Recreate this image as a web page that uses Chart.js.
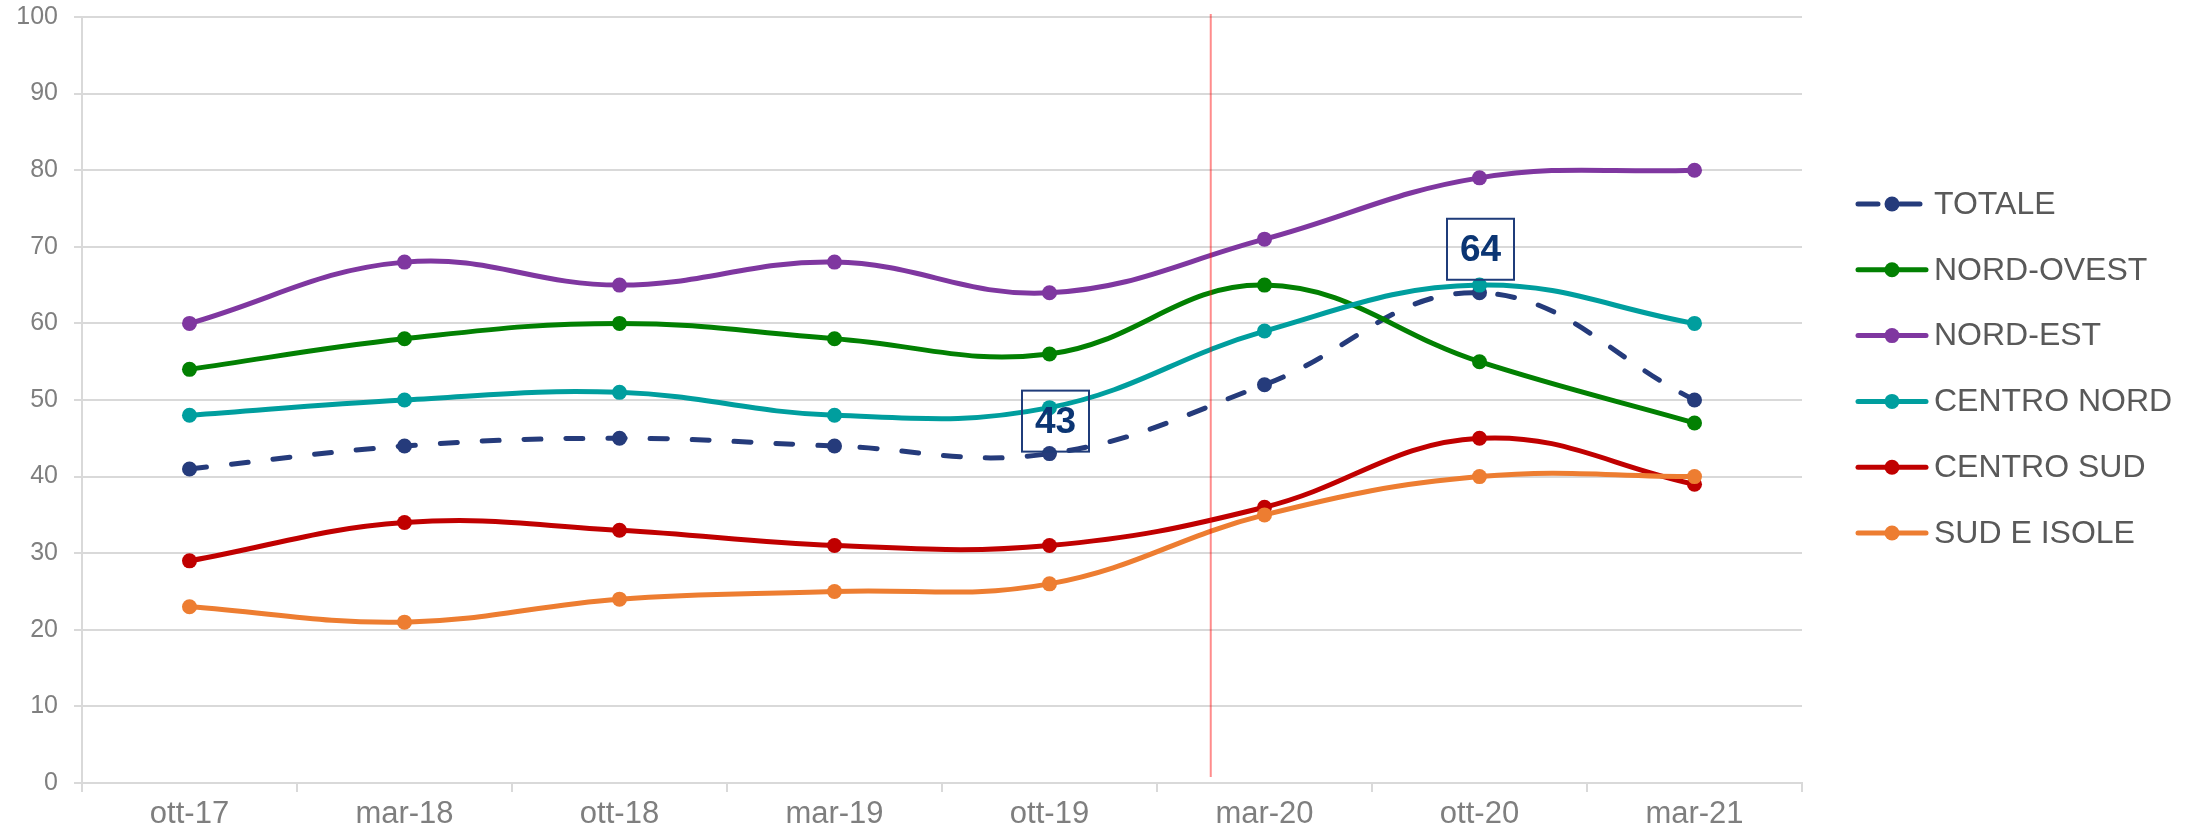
<!DOCTYPE html>
<html>
  <head>
    <title>indice per ripartizione</title>
    <style>
      body {
        margin: 0;
        background: #ffffff;
      }
    </style>
  </head>
  <body>
    <div style="width: 2187px; height: 838px">
      <canvas id="canvas" width="2187" height="838"></canvas>
    </div>

    <script src="https://cdn.jsdelivr.net/npm/chart.js@4/dist/chart.umd.min.js"></script>
    <script>
      // categories (x axis)
      const labels = ["ott-17", "mar-18", "ott-18", "mar-19", "ott-19", "mar-20", "ott-20", "mar-21"];

      // series values
      const totale = [41, 44, 45, 44, 43, 52, 64, 50];
      const nordOvest = [54, 58, 60, 58, 56, 65, 55, 47];
      const nordEst = [60, 68, 65, 68, 64, 71, 79, 80];
      const centroNord = [48, 50, 51, 48, 49, 59, 65, 60];
      const centroSud = [29, 34, 33, 31, 31, 36, 45, 39];
      const sudIsole = [23, 21, 24, 25, 26, 35, 40, 40];

      // y axis ticks
      const yMin = 0;
      const yMax = 100;
      const yStep = 10;

      // red marker, in category units (between ott-19 and mar-20)
      const markerAt = 4.75;
      // TOTALE points that carry a boxed value label
      const boxedPoints = [4, 6];

      Chart.defaults.font.family = "'Liberation Sans', Arial, sans-serif";

      function series(label, data, color, dashed) {
        return {
          label: label,
          data: data,
          borderColor: color,
          backgroundColor: color,
          pointBackgroundColor: color,
          pointBorderColor: color,
          borderWidth: 5,
          pointRadius: 7.5,
          pointBorderWidth: 0,
          tension: 0.4,
          borderCapStyle: "round",
          borderDash: dashed ? [17, 25] : [],
          fill: false,
        };
      }

      const datasets = [
        series("TOTALE", totale, "#253b7b", true),
        series("NORD-OVEST", nordOvest, "#028002", false),
        series("NORD-EST", nordEst, "#7f37a0", false),
        series("CENTRO NORD", centroNord, "#009e9e", false),
        series("CENTRO SUD", centroSud, "#c00000", false),
        series("SUD E ISOLE", sudIsole, "#ed7d31", false),
      ];
      // later series on top, like the original
      datasets.forEach((ds, i) => (ds.order = datasets.length - i));

      // vertical red line
      const markerLine = {
        id: "markerLine",
        afterDatasetsDraw(chart) {
          const ctx = chart.ctx;
          const x = chart.scales.x.getPixelForValue(markerAt);
          ctx.save();
          ctx.strokeStyle = "rgba(255, 0, 0, 0.45)";
          ctx.lineWidth = 2;
          ctx.beginPath();
          ctx.moveTo(x, chart.chartArea.top - 3);
          ctx.lineTo(x, chart.chartArea.bottom - 6);
          ctx.stroke();
          ctx.restore();
        },
      };

      // boxed value labels on TOTALE
      const boxOffsets = { 4: [6, 2], 6: [1, 13] };
      const valueBoxes = {
        id: "valueBoxes",
        afterDatasetsDraw(chart) {
          const ctx = chart.ctx;
          const meta = chart.getDatasetMeta(0);
          ctx.save();
          boxedPoints.forEach((i) => {
            const pt = meta.data[i];
            const off = boxOffsets[i] || [0, 10];
            const w = 67;
            const h = 61;
            const cx = pt.x + off[0];
            const bottom = pt.y - off[1];
            ctx.strokeStyle = "#1f3c7a";
            ctx.lineWidth = 2;
            ctx.strokeRect(cx - w / 2, bottom - h, w, h);
            ctx.fillStyle = "#0b3573";
            ctx.font = "bold 37px 'Liberation Sans', Arial, sans-serif";
            ctx.textAlign = "center";
            ctx.textBaseline = "middle";
            ctx.fillText(String(chart.data.datasets[0].data[i]), cx, bottom - h / 2 + 2);
          });
          ctx.restore();
        },
      };

      // legend on the right: line + dot + name
      const sideLegend = {
        id: "sideLegend",
        afterDraw(chart) {
          const ctx = chart.ctx;
          const x0 = chart.chartArea.right + 56;
          ctx.save();
          chart.data.datasets.forEach((ds, i) => {
            const y = 204 + i * 65.8;
            ctx.strokeStyle = ds.borderColor;
            ctx.lineWidth = 5;
            ctx.lineCap = "round";
            ctx.setLineDash(ds.borderDash.length ? [20, 22] : []);
            ctx.beginPath();
            ctx.moveTo(x0, y);
            ctx.lineTo(x0 + 68, y);
            ctx.stroke();
            ctx.setLineDash([]);
            ctx.fillStyle = ds.borderColor;
            ctx.beginPath();
            ctx.arc(x0 + 34, y, 7.5, 0, Math.PI * 2);
            ctx.fill();
            ctx.fillStyle = "#595959";
            ctx.font = "32px 'Liberation Sans', Arial, sans-serif";
            ctx.textAlign = "left";
            ctx.textBaseline = "middle";
            ctx.fillText(ds.label, x0 + 76, y + 1);
          });
          ctx.restore();
        },
      };

      const config = {
        type: "line",
        data: {
          labels: labels,
          datasets: datasets,
        },
        options: {
          responsive: false,
          animation: false,
          devicePixelRatio: 1,
          layout: {
            padding: { top: 17, right: 385, bottom: 0, left: 0 },
          },
          plugins: {
            legend: { display: false },
            tooltip: { enabled: false },
          },
          scales: {
            x: {
              offset: true,
              afterFit: (scale) => {
                scale.height = 55;
              },
              grid: {
                offset: true,
                drawOnChartArea: false,
                color: "#d9d9d9",
                lineWidth: 2,
                tickLength: 9,
              },
              border: { color: "#d9d9d9", width: 2 },
              ticks: {
                color: "#7f7f7f",
                font: { size: 31 },
                padding: 4,
                maxRotation: 0,
              },
            },
            y: {
              min: yMin,
              max: yMax,
              afterFit: (scale) => {
                scale.width = 82;
                scale.paddingTop = 0;
                scale.paddingBottom = 0;
              },
              grid: {
                color: "#d9d9d9",
                lineWidth: 2,
                tickLength: 8,
              },
              border: { color: "#d9d9d9", width: 2 },
              ticks: {
                stepSize: yStep,
                color: "#7f7f7f",
                font: { size: 25 },
                padding: 16,
              },
            },
          },
        },
        plugins: [markerLine, valueBoxes, sideLegend],
      };

      var ctx = document.getElementById("canvas").getContext("2d");
      var chart = new Chart(ctx, config);
    </script>
  </body>
</html>
